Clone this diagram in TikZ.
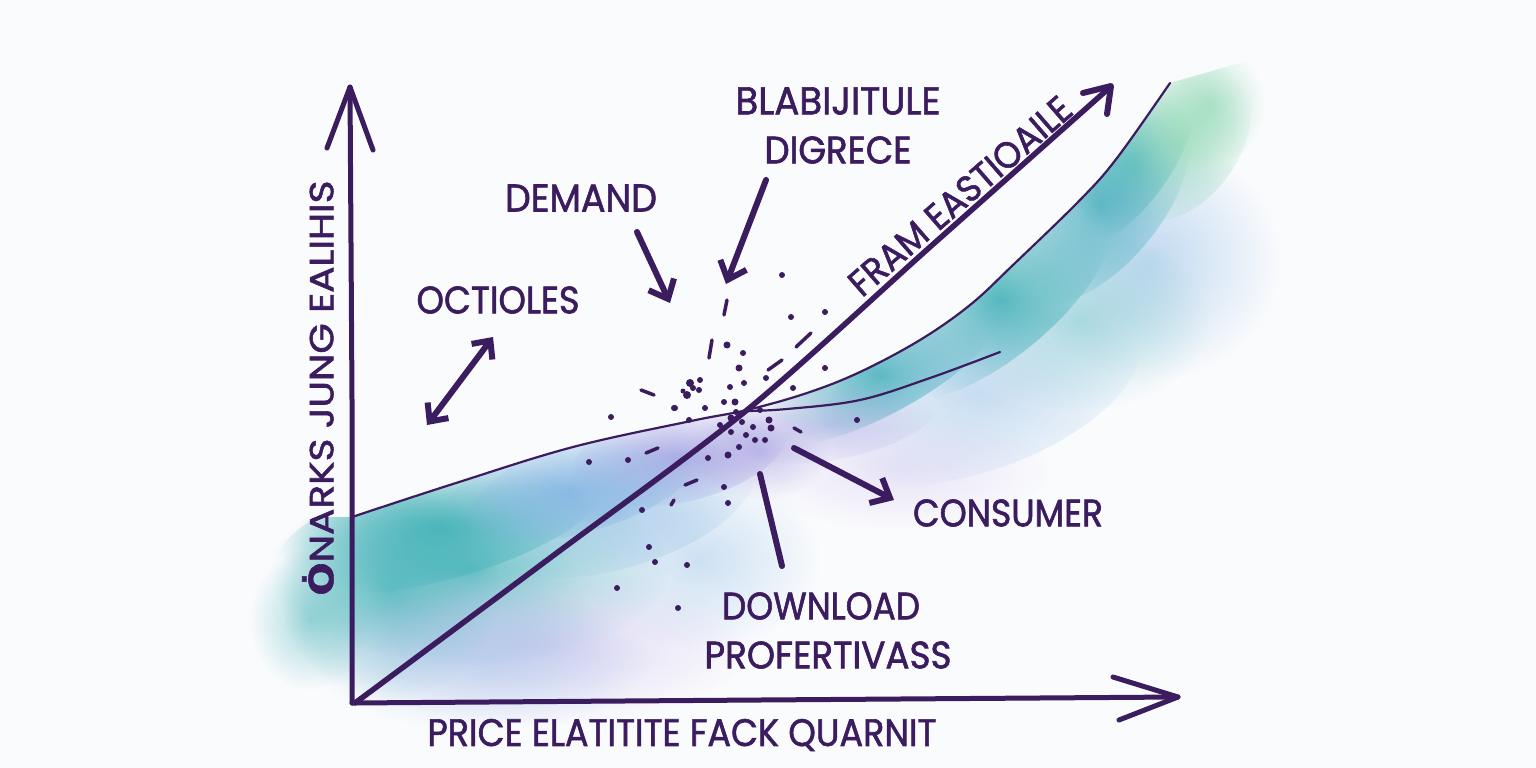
\documentclass[tikz,border=0pt]{standalone}
\usepackage{fontspec}
\setmainfont{Poppins}[FakeBold=1.6, AutoFakeBold=1.6]
\newfontfamily\dvfont{DejaVu Sans}[FakeBold=1.6]
\usetikzlibrary{arrows.meta,fadings}
\definecolor{ink}{HTML}{3B1D5F}
\definecolor{paper}{HTML}{FAFBFD}
\definecolor{wteal}{HTML}{3DB0B6}
\definecolor{wblue}{HTML}{7AB0E0}
\definecolor{wviol}{HTML}{8B84DA}
\definecolor{wlav}{HTML}{C6B8EC}
\definecolor{wmint}{HTML}{8ED8B2}
\newcommand{\lbl}[3]{\resizebox{#1pt}{#2pt}{\bfseries #3}}
\tikzfading[name=soft, inner color=transparent!0, outer color=transparent!100]
\begin{document}
\begin{tikzpicture}[x=1pt,y=-1pt,
  axis/.style={ink, line width=5pt, line cap=round, line join=round},
  thinline/.style={ink, line width=2.2pt, line cap=round},
  pen/.style={ink, line width=6pt, line cap=round},
  penhead/.style={pen, -{Straight Barb[length=16pt,width=28pt,line width=6pt]}},
  dashy/.style={ink, line width=3.5pt, line cap=round},
  txt/.style={ink, inner sep=0pt},
  blob/.style={path fading=soft, draw=none}]
\useasboundingbox (0,0) rectangle (1536,768);
\fill[paper] (0,0) rectangle (1536,768);

% ---------- watercolor washes ----------
\begin{scope}
  \clip plot[smooth, tension=0.6] coordinates {(352,517) (456,483) (573,447) (691,421) (747,410)} -- (900,420) -- (900,768) -- (240,768) -- (240,517) -- cycle;
  \fill[blob, wteal, opacity=0.75] (470,570) ellipse (200 and 95);
  \fill[blob, wteal, opacity=0.65] (390,590) ellipse (110 and 110);
  \fill[blob, wteal, opacity=0.45] (310,620) ellipse (60 and 70);
  \fill[blob, wteal, opacity=0.85, rotate around={15:(440,525)}] (440,525) ellipse (170 and 55);
  \fill[blob, wblue, opacity=0.75, rotate around={14:(570,487)}] (570,487) ellipse (130 and 48);
  \fill[blob, wviol, opacity=0.65, rotate around={13:(680,452)}] (680,452) ellipse (110 and 50);
  \fill[blob, wblue, opacity=0.55, rotate around={15:(610,500)}] (610,500) ellipse (150 and 70);
  \fill[blob, wlav, opacity=0.55] (540,645) ellipse (210 and 80);
  \fill[blob, wblue, opacity=0.35] (480,660) ellipse (170 and 70);
  \fill[blob, wviol, opacity=0.45] (760,450) ellipse (70 and 50);
  \fill[blob, wblue, opacity=0.35] (700,560) ellipse (120 and 90);
\end{scope}
\begin{scope}
  \clip plot[smooth, tension=0.6] coordinates {(747,410) (807,393) (860,372) (920,340) (970,305) (1013,265) (1080,200) (1117,158) (1170,83)} -- (1320,40) -- (1320,768) -- (700,768) -- (700,410) -- cycle;
  \fill[blob, wteal, opacity=0.85, rotate around={28:(880,375)}] (880,375) ellipse (130 and 40);
  \fill[blob, wteal, opacity=0.85, rotate around={40:(1000,300)}] (1000,300) ellipse (140 and 55);
  \fill[blob, wteal, opacity=0.80, rotate around={50:(1100,205)}] (1100,205) ellipse (120 and 60);
  \fill[blob, wteal, opacity=0.75, rotate around={55:(1135,165)}] (1135,165) ellipse (90 and 35);
  \fill[blob, wmint, opacity=0.75, rotate around={55:(1180,140)}] (1180,140) ellipse (90 and 60);
  \fill[blob, wmint, opacity=0.60] (1210,105) ellipse (55 and 60);
  \fill[blob, wblue, opacity=0.45] (1150,260) ellipse (130 and 120);
  \fill[blob, wblue, opacity=0.40, rotate around={20:(980,390)}] (980,390) ellipse (170 and 80);
  \fill[blob, wteal, opacity=0.35] (1080,320) ellipse (130 and 90);
  \fill[blob, wviol, opacity=0.35, rotate around={10:(830,420)}] (830,420) ellipse (110 and 40);
  \fill[blob, wlav, opacity=0.35] (900,470) ellipse (150 and 60);
\end{scope}

% ---------- curves ----------
\coordinate (O) at (352,703);
\coordinate (ytip) at (350,87);
\coordinate (xtip) at (1178,697);
\coordinate (dtip) at (1111,86);
\coordinate (X) at (747,410);
\draw[thinline] plot[smooth, tension=0.6] coordinates {(352,517) (456,483) (573,447) (691,421) (747,410) (807,393) (860,372) (920,340) (970,305) (1013,265) (1080,200) (1117,158) (1170,83)};
\draw[thinline] plot[smooth, tension=0.6] coordinates {(747,411) (787,409) (860,400) (930,378) (1000,352)};

% ---------- axes ----------
\draw[axis] (O) -- (352,400) -- (ytip);
\draw[axis] (ytip) ++(-23,61) -- (ytip) -- ++(23,63);
\draw[axis] (O) -- (760,700) -- (xtip);
\draw[axis] (xtip) ++(-65,-20) -- (xtip) -- ++(-59,23);
% diagonal
\draw[ink, line width=5.5pt, line cap=round] plot[smooth, tension=0.5] coordinates {(355,703) (550,558) (X) (930,247) (1108,89)};
\draw[ink, line width=6pt, line cap=round, line join=round] (dtip) ++(-28,7) -- (dtip) -- ++(-4,28);

% ---------- dots and dashes ----------
\foreach \x/\y/\r in {782/275/3, 825/312/3, 791/317/3, 727/345/3.5, 743/353/3, 825/368/3, 739/368/3.5, 766/378/3, 793/388/3, 675/408/3, 705/408/3, 611/417/3, 857/420/3,
  589/462/3, 674/408/3, 690/383/4, 699/390/3, 687/395/4, 730/387/3, 735/402/3.5, 724/402/3, 744/383/3, 689/420/3, 693/388/3, 683/391/2.5,
  731/418/3.5, 742/422/3, 753/427/3, 769/420/3.5, 771/428/3.5, 755/440/3, 765/440/3, 739/447/3, 728/455/3.5, 708/458/3, 731/432/3, 746/435/3, 720/425/3, 760/410/3, 736/412/3,
  724/487/3, 728/503/3, 642/510/3, 649/547/3, 655/562/3, 687/565/3, 617/588/3, 678/608/3, 628/460/3, 700/380/3}
  \fill[ink] (\x,\y) circle (\r);
\foreach \a/\b/\c/\d in {727/300/724/315, 712/340/709/358, 811/333/796/347, 782/360/768/370, 641/390/654/395,
  646/453/658/448, 685/485/697/480, 794/428/801/432, 671/505/674/500}
  \draw[dashy] (\a,\b) -- (\c,\d);

% ---------- labels ----------
\node[txt] (blab) at (838,101) {\lbl{205}{27}{BLABIJITULE}};
\node[txt] (digr) at (838,150) {\lbl{147}{27}{DIGRECE}};
\node[txt] (dem) at (581,198) {\lbl{152}{27}{DEMAND}};
\node[txt] (oct) at (498,300) {\lbl{163}{27}{OCTIOLES}};
\node[txt] (cons) at (1008,513) {\lbl{190}{27}{CONSUMER}};
\node[txt] (down) at (821,606) {\lbl{198}{27}{DOWNLOAD}};
\node[txt] (prof) at (828,655) {\lbl{247}{27}{PROFERTIVASS}};
\node[txt] (xlab) at (682,735) {\lbl{509}{27}{PRICE ELATITITE FACK QUARNIT}};
\node[txt, rotate=90] (ylab) at (318,388) {\lbl{415}{31}{{\dvfont Ȯ}NARKS JUNG EALIHIS}};
\node[txt, rotate=41] (fram) at (960,196) {\lbl{282}{26}{FRAM EASTIOAILE}};

% ---------- arrows ----------
\coordinate (demA) at (637,232);
\coordinate (demB) at (670,303);
\draw[penhead] (demA) -- (demB);
\coordinate (digA) at (766,180);
\coordinate (digB) at (726,284);
\draw[penhead] (digA) -- (digB);
\coordinate (octA) at (493,337);
\coordinate (octB) at (427,425);
\draw[pen, {Straight Barb[length=14pt,width=26pt,line width=6pt]}-{Straight Barb[length=14pt,width=26pt,line width=6pt]}] (octA) -- (octB);
\coordinate (conA) at (794,448);
\coordinate (conB) at (894,500);
\draw[penhead] (conA) -- (conB);
\coordinate (dlA) at (760,474);
\coordinate (dlB) at (782,566);
\draw[pen] (dlA) -- (dlB);
\end{tikzpicture}
\end{document}
